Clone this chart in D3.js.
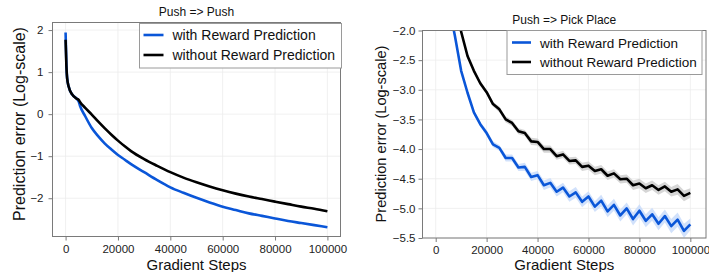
<!DOCTYPE html>
<html>
<head>
<meta charset="utf-8">
<script src="https://cdn.jsdelivr.net/npm/d3@7.9.0/dist/d3.min.js"></script>
<style>
  body { margin: 0; background: #fff; }
  svg { display: block; font-family: "Liberation Sans", Arial, sans-serif; }
</style>
</head>
<body>
<svg id="chart" width="709" height="272"></svg>
<script>
// ---- data ----
const seriesNames = ['with Reward Prediction', 'without Reward Prediction'];
const seriesColors = ['#0a56d8', '#000000'];
const bandColors = ['#c9dcfa', '#cfcfcf'];

// left panel: Push => Push
const stepsLeft = [0, 300, 600, 1200, 2500, 4500, 5000, 5500, 7500, 10000, 12500, 15000, 17500, 20000, 22500,
  25000, 30000, 35000, 40000, 45000, 50000, 55000, 60000, 65000, 70000, 75000, 80000, 85000, 90000, 95000, 100000];
const withLeft = [1.94, 1.20, 0.85, 0.65, 0.47, 0.35, 0.30, 0.20, -0.05, -0.33, -0.53, -0.70, -0.84, -0.97, -1.08,
  -1.19, -1.38, -1.57, -1.74, -1.87, -1.99, -2.10, -2.20, -2.28, -2.36, -2.42, -2.48, -2.54, -2.59, -2.64, -2.69];
const withoutLeft = [1.77, 1.15, 0.85, 0.65, 0.47, 0.36, 0.34, 0.29, 0.15, -0.01, -0.18, -0.34, -0.49, -0.63, -0.76,
  -0.88, -1.07, -1.23, -1.38, -1.51, -1.62, -1.72, -1.81, -1.89, -1.96, -2.02, -2.08, -2.14, -2.20, -2.25, -2.31];

// right panel: Push => Pick Place
const stepsRight = [2500, 5000, 7500, 10000, 12500, 15000, 17500, 20000, 22500, 25000, 27500, 30000, 32500, 35000,
  37500, 40000, 42500, 45000, 47500, 50000, 52500, 55000, 57500, 60000, 62500, 65000, 67500, 70000, 72500, 75000,
  77500, 80000, 82500, 85000, 87500, 90000, 92500, 95000, 97500, 100000];
const withRight = [-1.20, -1.55, -2.08, -2.68, -3.05, -3.38, -3.58, -3.73, -3.92, -3.98, -4.15, -4.15, -4.31, -4.30,
  -4.47, -4.44, -4.61, -4.57, -4.72, -4.65, -4.80, -4.73, -4.89, -4.80, -4.97, -4.87, -5.05, -4.94, -5.12, -5.00,
  -5.18, -5.04, -5.21, -5.10, -5.26, -5.13, -5.30, -5.19, -5.38, -5.27];
const withoutRight = [-0.60, -1.10, -1.58, -2.02, -2.43, -2.68, -2.89, -3.04, -3.24, -3.33, -3.50, -3.56, -3.70, -3.73,
  -3.87, -3.88, -4.00, -4.00, -4.12, -4.09, -4.20, -4.19, -4.30, -4.28, -4.37, -4.34, -4.45, -4.41, -4.51, -4.50,
  -4.61, -4.58, -4.66, -4.61, -4.69, -4.63, -4.72, -4.68, -4.79, -4.74];
const withSpread = [0.02, 0.02, 0.02, 0.03, 0.03, 0.04, 0.04, 0.05, 0.05, 0.05, 0.06, 0.06, 0.06, 0.07,
  0.07, 0.07, 0.08, 0.08, 0.08, 0.08, 0.09, 0.09, 0.09, 0.09, 0.09, 0.10, 0.10, 0.10, 0.10, 0.10,
  0.11, 0.11, 0.11, 0.11, 0.11, 0.11, 0.12, 0.12, 0.12, 0.10];
const withoutSpread = [0.02, 0.02, 0.02, 0.03, 0.03, 0.03, 0.04, 0.04, 0.04, 0.05, 0.05, 0.05, 0.05, 0.05,
  0.06, 0.06, 0.06, 0.06, 0.06, 0.06, 0.06, 0.06, 0.07, 0.07, 0.07, 0.07, 0.07, 0.07, 0.07, 0.07,
  0.08, 0.08, 0.08, 0.08, 0.08, 0.08, 0.08, 0.09, 0.09, 0.08];

const xTicks = [0, 20000, 40000, 60000, 80000, 100000];
const yTicksLeft = [-2, -1, 0, 1, 2];
const yTicksRight = [-5.5, -5.0, -4.5, -4.0, -3.5, -3.0, -2.5, -2.0];

const svg = d3.select('#chart');
const minus = s => s.replace('-', '\u2212');

function drawPanel(cfg) {
  const x = d3.scaleLinear().domain(cfg.xDomain).range([cfg.left, cfg.right]);
  const y = d3.scaleLinear().domain(cfg.yDomain).range([cfg.bottom, cfg.top]);
  const g = svg.append('g');

  // grid
  g.append('g').selectAll('line').data(xTicks).join('line')
    .attr('x1', d => x(d)).attr('x2', d => x(d))
    .attr('y1', cfg.top).attr('y2', cfg.bottom)
    .attr('stroke', '#ececec').attr('stroke-width', 0.8);
  g.append('g').selectAll('line').data(cfg.yTicks).join('line')
    .attr('x1', cfg.left).attr('x2', cfg.right)
    .attr('y1', d => y(d)).attr('y2', d => y(d))
    .attr('stroke', '#ececec').attr('stroke-width', 0.8);

  // clip
  const clipId = 'clip' + cfg.id;
  svg.append('clipPath').attr('id', clipId).append('rect')
    .attr('x', cfg.left).attr('y', cfg.top)
    .attr('width', cfg.right - cfg.left).attr('height', cfg.bottom - cfg.top);
  const plot = g.append('g').attr('clip-path', `url(#${clipId})`);

  cfg.series.forEach((s, i) => {
    const pts = cfg.steps.map((st, k) => ({ x: st, y: s[k], e: cfg.spread ? cfg.spread[i][k] : 0 }));
    if (cfg.spread) {
      plot.append('path').datum(pts)
        .attr('d', d3.area().x(d => x(d.x)).y0(d => y(d.y - d.e)).y1(d => y(d.y + d.e)))
        .attr('fill', bandColors[i]).attr('opacity', 0.85);
    }
    plot.append('path').datum(pts)
      .attr('d', d3.line().x(d => x(d.x)).y(d => y(d.y)).curve(cfg.curve))
      .attr('fill', 'none').attr('stroke', seriesColors[i])
      .attr('stroke-width', 2.6).attr('stroke-linejoin', 'round');
  });

  // frame
  g.append('rect').attr('x', cfg.left).attr('y', cfg.top)
    .attr('width', cfg.right - cfg.left).attr('height', cfg.bottom - cfg.top)
    .attr('fill', 'none').attr('stroke', '#7a7a7a').attr('stroke-width', 1);

  // axes
  const xAxis = g.append('g').attr('transform', `translate(0,${cfg.bottom})`)
    .call(d3.axisBottom(x).tickValues(xTicks).tickSize(4).tickPadding(4).tickFormat(d3.format('d')));
  const yAxis = g.append('g').attr('transform', `translate(${cfg.left},0)`)
    .call(d3.axisLeft(y).tickValues(cfg.yTicks).tickSize(4).tickPadding(cfg.yPad)
      .tickFormat(d => minus(cfg.yFormat(d))));
  [xAxis, yAxis].forEach(a => {
    a.select('.domain').remove();
    a.selectAll('line').attr('stroke', '#7a7a7a');
    a.selectAll('text').attr('fill', '#222').style('font-size', '11.5px')
      .style('font-family', '"Liberation Sans", Arial, sans-serif');
  });

  // labels
  g.append('text').attr('x', (cfg.left + cfg.right) / 2).attr('y', 270)
    .attr('text-anchor', 'middle').style('font-size', '15px').attr('fill', '#111')
    .text('Gradient Steps');
  g.append('text').attr('transform', `translate(${cfg.yLabelX},${cfg.yLabelY}) rotate(-90)`)
    .attr('text-anchor', 'middle').style('font-size', cfg.yLabelSize).attr('fill', '#111')
    .text('Prediction error (Log-scale)');
  g.append('text').attr('x', (cfg.left + cfg.right) / 2).attr('y', cfg.titleY)
    .attr('text-anchor', 'middle').style('font-size', '12px').attr('fill', '#111')
    .text(cfg.title);

  // legend
  const L = cfg.legend;
  const lg = g.append('g');
  lg.append('rect').attr('x', L.x).attr('y', L.y).attr('width', L.w).attr('height', L.h)
    .attr('fill', '#fff').attr('stroke', '#9a9a9a').attr('stroke-width', 1);
  seriesNames.forEach((name, i) => {
    const cy = L.y + L.row0 + i * L.rowGap;
    lg.append('line').attr('x1', L.x + L.lx0).attr('x2', L.x + L.lx1)
      .attr('y1', cy).attr('y2', cy)
      .attr('stroke', seriesColors[i]).attr('stroke-width', 2.6);
    lg.append('text').attr('x', L.x + L.tx).attr('y', cy + 5)
      .style('font-size', L.font).attr('fill', '#111').text(name);
  });
}

drawPanel({
  id: 'L', left: 52.5, right: 340.5, top: 22.5, bottom: 236.5,
  xDomain: [-5000, 105000], yDomain: [-2.91, 2.18],
  yTicks: yTicksLeft, yFormat: d3.format('d'), yPad: 5,
  steps: stepsLeft, series: [withLeft, withoutLeft], curve: d3.curveMonotoneX,
  title: 'Push => Push', titleY: 16, yLabelX: 25, yLabelY: 124, yLabelSize: '16px',
  legend: { x: 139.5, y: 23.5, w: 202, h: 44.5, row0: 11.5, rowGap: 20, lx0: 4, lx1: 24, tx: 33, font: '14px' }
});

drawPanel({
  id: 'R', left: 422.5, right: 706, top: 30.5, bottom: 238,
  xDomain: [-5180, 106150], yDomain: [-5.5, -2.0],
  yTicks: yTicksRight, yFormat: d3.format('.1f'), yPad: 3,
  steps: stepsRight, series: [withRight, withoutRight], spread: [withSpread, withoutSpread],
  curve: d3.curveLinear,
  title: 'Push => Pick Place', titleY: 24, yLabelX: 386, yLabelY: 134, yLabelSize: '14.6px',
  legend: { x: 507, y: 30.5, w: 195, h: 44, row0: 12, rowGap: 19.5, lx0: 5, lx1: 24, tx: 33, font: '13.5px' }
});
</script>
</body>
</html>
